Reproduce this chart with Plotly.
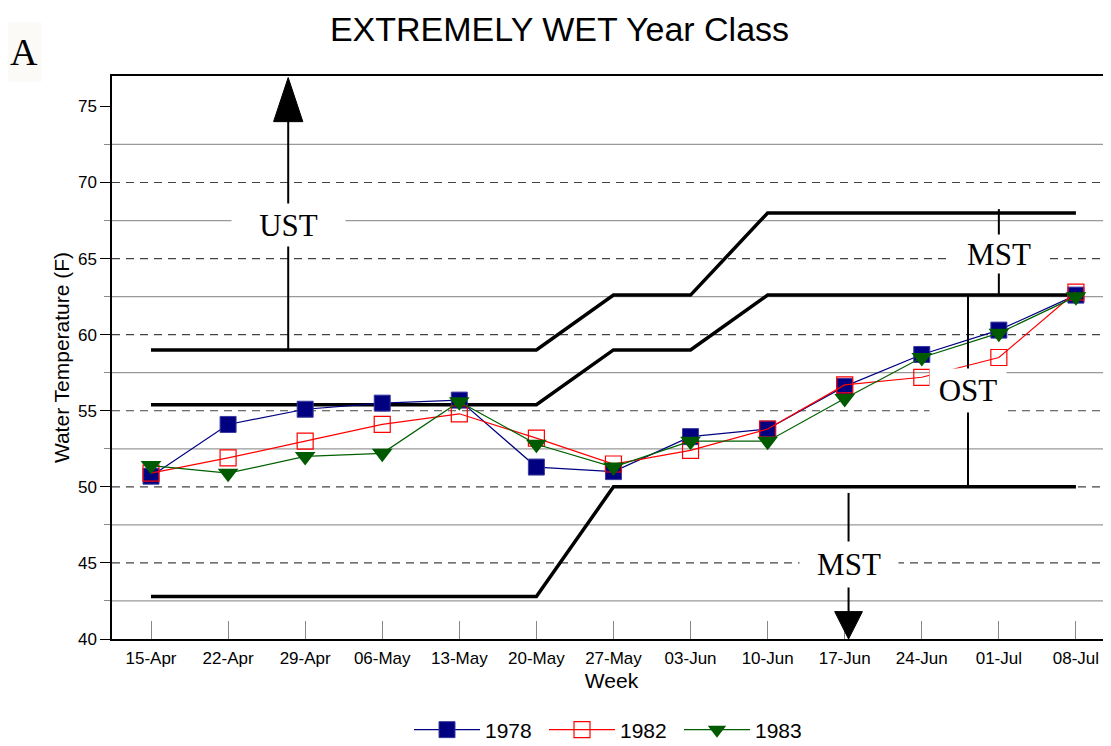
import plotly.graph_objects as go

# ---------------- data ----------------
weeks = ["15-Apr", "22-Apr", "29-Apr", "06-May", "13-May", "20-May", "27-May",
         "03-Jun", "10-Jun", "17-Jun", "24-Jun", "01-Jul", "08-Jul"]

t1978 = [50.7, 54.1, 55.1, 55.5, 55.7, 51.3, 51.0, 53.3, 53.8, 56.6, 58.7, 60.3, 62.6]
t1982 = [50.9, 51.9, 53.0, 54.1, 54.8, 53.2, 51.5, 52.4, 53.8, 56.7, 57.2, 58.5, 62.8]
t1983 = [51.4, 50.9, 52.0, 52.2, 55.6, 52.8, 51.3, 53.0, 53.0, 55.8, 58.5, 60.1, 62.5]

# temperature criteria lines
crit_low = [42.8, 42.8, 42.8, 42.8, 42.8, 42.8, 50.0, 50.0, 50.0, 50.0, 50.0, 50.0, 50.0]
crit_mid = [55.4, 55.4, 55.4, 55.4, 55.4, 55.4, 59.0, 59.0, 62.6, 62.6, 62.6, 62.6, 62.6]
crit_high = [59.0, 59.0, 59.0, 59.0, 59.0, 59.0, 62.6, 62.6, 68.0, 68.0, 68.0, 68.0, 68.0]

y_major = [40, 45, 50, 55, 60, 65, 70, 75]
y_dashed = [45, 50, 55, 60, 65, 70]
y_minor = [42.5, 47.5, 52.5, 57.5, 62.5, 67.5, 72.5]

x_idx = list(range(len(weeks)))
YMIN, YMAX = 40, 77

# ---------------- figure ----------------
fig = go.Figure()

for crit in (crit_low, crit_mid, crit_high):
    fig.add_trace(go.Scatter(x=x_idx, y=crit, mode="lines", showlegend=False,
                             hoverinfo="skip",
                             line=dict(color="black", width=3.5)))

fig.add_trace(go.Scatter(x=x_idx, y=t1978, name="1978", mode="lines+markers",
                         line=dict(color="#000080", width=1.2),
                         marker=dict(symbol="square", size=16, color="#000080",
                                     line=dict(color="#3a3aa0", width=1))))
fig.add_trace(go.Scatter(x=x_idx, y=t1982, name="1982", mode="lines+markers",
                         line=dict(color="#ff0000", width=1.2),
                         marker=dict(symbol="square-open", size=16, color="#ff0000",
                                     line=dict(width=1.2))))
fig.add_trace(go.Scatter(x=x_idx, y=t1983, name="1983", mode="lines+markers",
                         line=dict(color="#006000", width=1.2),
                         marker=dict(symbol="triangle-down", size=18, color="#005a00")))

shapes = []
for v in y_minor:
    shapes.append(dict(type="line", xref="paper", yref="y", x0=0, x1=1, y0=v, y1=v,
                       layer="below", line=dict(color="#999999", width=1.2)))
for v in y_dashed:
    shapes.append(dict(type="line", xref="paper", yref="y", x0=0, x1=1, y0=v, y1=v,
                       layer="below", line=dict(color="#444444", width=1.2, dash="8px,6px")))

# annotation guides (positions tied to the criteria lines)
x_ust = 1.78
x_mst_hi = 11.0
x_ost = 10.6
x_mst_lo = 9.05
ann_line = dict(color="black", width=2)

shapes.append(dict(type="line", xref="x", yref="y", x0=x_ust, x1=x_ust,
                   y0=crit_high[0], y1=74.0, line=ann_line))
shapes.append(dict(type="path", xref="x", yref="y", fillcolor="black",
                   line=dict(color="black", width=1),
                   path=f"M {x_ust-0.19},74.0 L {x_ust+0.19},74.0 L {x_ust},76.9 Z"))
shapes.append(dict(type="line", xref="x", yref="y", x0=x_mst_hi, x1=x_mst_hi,
                   y0=crit_mid[-1], y1=crit_high[-1] + 0.25, line=ann_line))
shapes.append(dict(type="line", xref="x", yref="y", x0=x_ost, x1=x_ost,
                   y0=crit_low[-1], y1=crit_mid[-1], line=ann_line))
shapes.append(dict(type="line", xref="x", yref="y", x0=x_mst_lo, x1=x_mst_lo,
                   y0=crit_low[-1] - 0.4, y1=41.8, line=ann_line))
shapes.append(dict(type="path", xref="x", yref="y", fillcolor="black",
                   line=dict(color="black", width=1),
                   path=f"M {x_mst_lo-0.18},41.8 L {x_mst_lo+0.18},41.8 L {x_mst_lo},40.0 Z"))

serif = "Liberation Serif, Times New Roman, serif"
annotations = [
    dict(x=x_ust, y=67.2, xref="x", yref="y", text="UST", showarrow=False,
         font=dict(family=serif, size=31, color="black"), bgcolor="white",
         width=113, height=42, borderpad=0),
    dict(x=x_mst_hi, y=65.3, xref="x", yref="y", text="MST", showarrow=False,
         font=dict(family=serif, size=31, color="black"), bgcolor="white",
         width=98, height=38, borderpad=0),
    dict(x=x_ost, y=56.3, xref="x", yref="y", text="OST", showarrow=False,
         font=dict(family=serif, size=31, color="black"), bgcolor="white",
         width=76, height=43, borderpad=0),
    dict(x=x_mst_lo, y=44.9, xref="x", yref="y", text="MST", showarrow=False,
         font=dict(family=serif, size=31, color="black"), bgcolor="white",
         width=98, height=45, borderpad=0),
    dict(x=-0.088, y=1.0426, xref="paper", yref="paper", text="A", showarrow=False,
         font=dict(family=serif, size=38, color="black"), bgcolor="#fbfaf6",
         width=34, height=58, borderpad=0, xanchor="center", yanchor="middle"),
]

sans = "Liberation Sans, Arial, sans-serif"
W, H = 1103, 738   # page body has an 8px margin
fig.update_layout(
    width=W, height=H,
    margin=dict(l=104, r=0, t=68, b=107, pad=0, autoexpand=False),
    paper_bgcolor="white", plot_bgcolor="white",
    font=dict(family=sans, color="black"),
    title=dict(text="EXTREMELY WET Year Class", x=0.5, xref="container", xanchor="center",
               y=1 - 21 / H, yref="container", yanchor="middle",
               font=dict(family=sans, size=34, color="black")),
    shapes=shapes,
    annotations=annotations,
    showlegend=True,
    legend=dict(orientation="h", x=0.5, xanchor="center", yref="container",
                y=16 / H, yanchor="middle",
                font=dict(family=sans, size=21, color="black"),
                itemwidth=66, entrywidth=54, entrywidthmode="pixels",
                traceorder="normal", bgcolor="rgba(0,0,0,0)"),
    xaxis=dict(range=[-0.506, 12.455], tickmode="array", tickvals=x_idx, ticktext=weeks,
               showgrid=False, zeroline=False, showline=True, linecolor="black",
               linewidth=1.5, mirror=True, ticks="inside", ticklen=18, tickcolor="#888888",
               tickwidth=1.2, ticklabelstandoff=3, automargin=False,
               tickfont=dict(family=sans, size=17, color="black"),
               title=dict(text="Week", standoff=6, font=dict(family=sans, size=21, color="black"))),
    yaxis=dict(range=[YMIN, YMAX], tickmode="array", tickvals=y_major,
               showgrid=False, zeroline=False, showline=True, linecolor="black",
               linewidth=1.5, ticks="outside", ticklen=10, tickcolor="black", tickwidth=1.2,
               automargin=False,
               tickfont=dict(family=sans, size=17, color="black"),
               minor=dict(tickvals=y_minor, ticks="outside", ticklen=6, tickcolor="#888888",
                          tickwidth=1.2, showgrid=False),
               title=dict(text="Water Temperature (F)", standoff=3,
                          font=dict(family=sans, size=21, color="black"))),
    yaxis2=dict(range=[YMIN, YMAX], overlaying="y", side="left", tickmode="array",
                tickvals=y_major, showticklabels=False, ticks="inside", ticklen=10,
                tickcolor="black", tickwidth=1.2, showgrid=False, zeroline=False,
                showline=False, automargin=False),
)

fig.write_html("out.html")
